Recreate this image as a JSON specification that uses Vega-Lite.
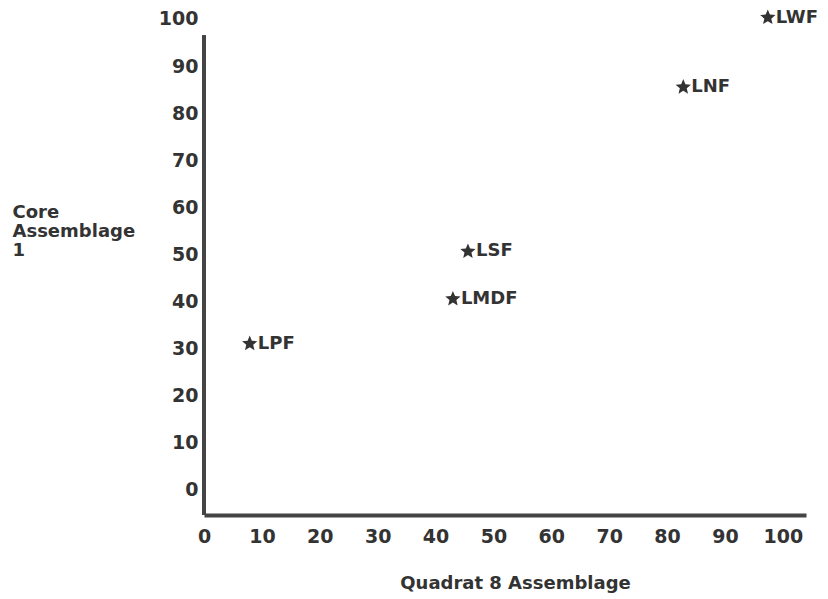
{
  "$schema": "https://vega.github.io/schema/vega-lite/v6.json",
  "width": 602,
  "height": 505,
  "autosize": {"type": "none"},
  "padding": {"left": 204, "top": 10, "right": 22, "bottom": 84},
  "background": "white",
  "data": {
    "values": [
      {"site": "LWF", "quadrat": 97.4, "core": 100.3},
      {"site": "LNF", "quadrat": 82.8, "core": 85.5},
      {"site": "LSF", "quadrat": 45.6, "core": 50.6},
      {"site": "LMDF", "quadrat": 43.0, "core": 40.5},
      {"site": "LPF", "quadrat": 7.9, "core": 31.0}
    ]
  },
  "config": {"view": {"stroke": null}, "font": "DejaVu Sans"},
  "encoding": {
    "x": {
      "field": "quadrat",
      "type": "quantitative",
      "scale": {"domain": [0, 104], "nice": false, "zero": false},
      "axis": {
        "values": [0, 10, 20, 30, 40, 50, 60, 70, 80, 90, 100],
        "grid": false,
        "ticks": false,
        "domainWidth": 4,
        "domainColor": "#444444",
        "labelFontSize": 19,
        "labelFontWeight": "bold",
        "labelColor": "#333333",
        "labelPadding": 12,
        "labelFlush": false,
        "title": "Quadrat 8 Assemblage",
        "titleFontSize": 18,
        "titleFontWeight": "bold",
        "titleColor": "#333333",
        "titleX": 311,
        "titleY": 68,
        "titleAlign": "center",
        "titleBaseline": "middle"
      }
    },
    "y": {
      "field": "core",
      "type": "quantitative",
      "scale": {"domain": [-5.4, 101.9], "nice": false, "zero": false},
      "axis": {
        "values": [0, 10, 20, 30, 40, 50, 60, 70, 80, 90, 100],
        "grid": false,
        "ticks": false,
        "domain": false,
        "labelFontSize": 19,
        "labelFontWeight": "bold",
        "labelColor": "#333333",
        "labelPadding": 6,
        "labelFlush": false,
        "labelBaseline": "middle",
        "title": ["Core", "Assemblage", "1"],
        "titleFontSize": 18,
        "titleFontWeight": "bold",
        "titleColor": "#333333",
        "titleAngle": 0,
        "titleAlign": "left",
        "titleBaseline": "middle",
        "titleLineHeight": 19,
        "titleX": -192,
        "titleY": 202
      }
    }
  },
  "layer": [
    {
      "mark": {"type": "rule", "strokeWidth": 4, "color": "#444444"},
      "encoding": {
        "x": {"datum": 0, "type": "quantitative"},
        "y": {"datum": -5.4, "type": "quantitative"},
        "y2": {"datum": 96.5}
      }
    },
    {
      "mark": {
        "type": "point",
        "shape": "M0,-1L0.265,-0.364L0.951,-0.309L0.428,0.139L0.588,0.809L0,0.45L-0.588,0.809L-0.428,0.139L-0.951,-0.309L-0.265,-0.364Z",
        "filled": true,
        "size": 260,
        "color": "#333333",
        "opacity": 1
      }
    },
    {
      "mark": {
        "type": "text",
        "align": "left",
        "baseline": "middle",
        "dx": 8,
        "fontSize": 18,
        "fontWeight": "bold",
        "color": "#333333"
      },
      "encoding": {"text": {"field": "site"}}
    }
  ]
}
